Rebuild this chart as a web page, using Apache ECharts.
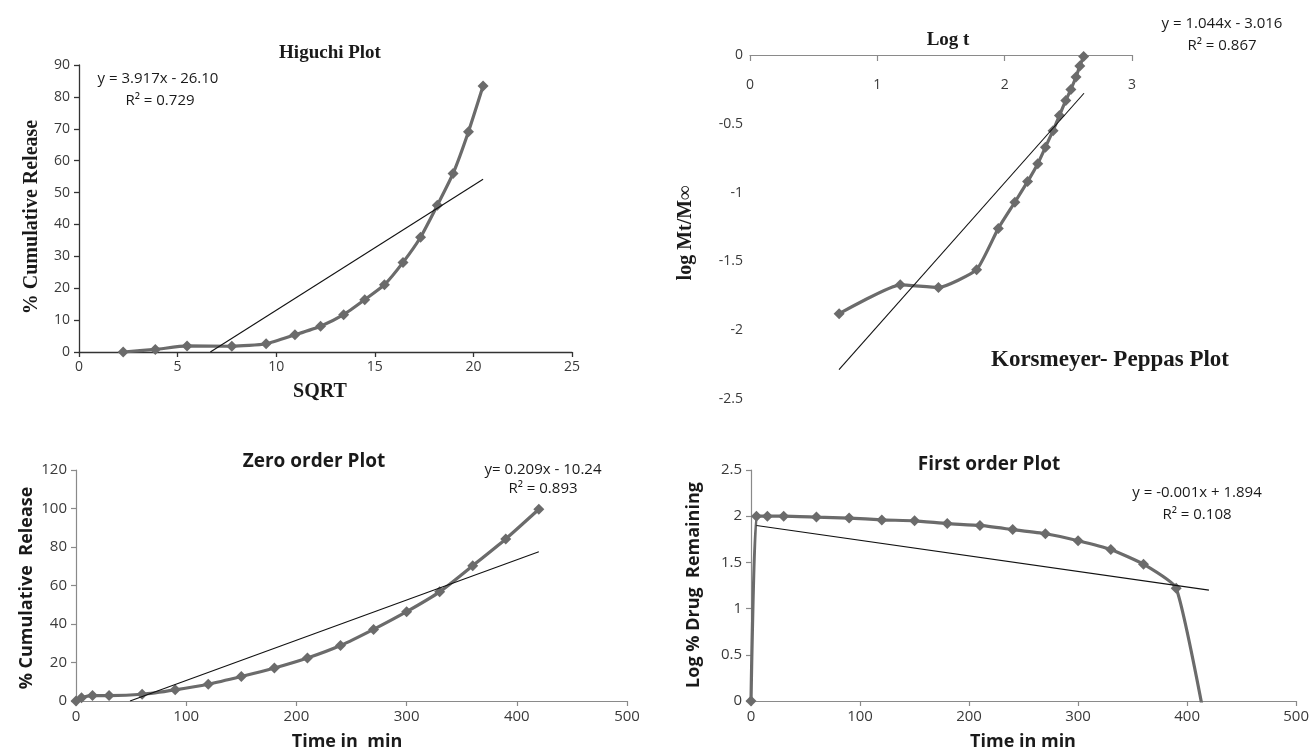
<!DOCTYPE html>
<html>
<head>
<meta charset="utf-8">
<script src="https://cdn.jsdelivr.net/npm/echarts@6/dist/echarts.min.js"></script>
<style>
html,body{margin:0;padding:0;background:#fff;}
#chart{width:1312px;height:752px;}
</style>
</head>
<body>
<div id="chart"></div>
<script>
// ---- Higuchi plot data (SQRT of time vs % cumulative release)
const higuchiX = [2.24, 3.87, 5.48, 7.75, 9.49, 10.95, 12.25, 13.42, 14.49, 15.49, 16.43, 17.32, 18.17, 18.97, 19.75, 20.49];
const higuchiY = [0, 0.8, 1.9, 1.8, 2.6, 5.4, 8.1, 11.7, 16.4, 21.1, 28.1, 36.0, 46.0, 56.0, 69.1, 83.4];
const higuchiTrendX = [6.66, 20.49];
const higuchiTrendY = [0, 54.2];

// ---- Korsmeyer-Peppas plot data (log t vs log Mt/Minf)
const kpX = [0.70, 1.18, 1.48, 1.78, 1.95, 2.08, 2.18, 2.26, 2.32, 2.38, 2.43, 2.48, 2.52, 2.56, 2.59, 2.62];
const kpY = [-1.88, -1.67, -1.69, -1.56, -1.26, -1.07, -0.92, -0.79, -0.67, -0.55, -0.44, -0.33, -0.25, -0.16, -0.08, -0.01];
const kpTrendX = [0.699, 2.623];
const kpTrendY = [-2.286, -0.278];

// ---- Zero order plot data (time vs % cumulative release)
const zeroX = [0, 5, 15, 30, 60, 90, 120, 150, 180, 210, 240, 270, 300, 330, 360, 390, 420];
const zeroY = [0, 1.7, 2.8, 2.8, 3.5, 5.8, 8.7, 12.7, 17.1, 22.3, 28.8, 37.2, 46.4, 56.7, 70.3, 84.2, 99.6];
const zeroTrendX = [49, 420];
const zeroTrendY = [0, 77.5];

// ---- First order plot data (time vs log % drug remaining)
const firstX = [0, 5, 15, 30, 60, 90, 120, 150, 180, 210, 240, 270, 300, 330, 360, 390, 420];
const firstY = [0, 2.0, 2.0, 2.0, 1.99, 1.98, 1.96, 1.95, 1.92, 1.90, 1.855, 1.81, 1.735, 1.64, 1.48, 1.22, -0.44];
const firstTrendX = [5, 420];
const firstTrendY = [1.9, 1.2];

// ---- texts
const texts = {
  higuchiTitle: 'Higuchi Plot', higuchiXName: 'SQRT', higuchiYName: '% Cumulative Release',
  higuchiEq: 'y = 3.917x - 26.10', higuchiR2: 'R\u00B2 = 0.729',
  kpTitle: 'Korsmeyer- Peppas Plot', kpXName: 'Log t', kpYName: 'log Mt/M\u221E',
  kpEq: 'y = 1.044x - 3.016', kpR2: 'R\u00B2 = 0.867',
  zeroTitle: 'Zero order Plot', zeroXName: 'Time in  min', zeroYName: '% Cumulative  Release',
  zeroEq: 'y= 0.209x - 10.24', zeroR2: 'R\u00B2 = 0.893',
  firstTitle: 'First order Plot', firstXName: 'Time in min', firstYName: 'Log % Drug  Remaining',
  firstEq: 'y = -0.001x + 1.894', firstR2: 'R\u00B2 = 0.108'
};

const zip = (a, b) => a.map((v, i) => [v, b[i]]);

const SANS = '"Open Sans", "Liberation Sans", sans-serif';
const SERIF = '"Liberation Serif", "DejaVu Serif", serif';
const LBL = '#3a3a3a';
const DATA = '#6b6b6b';
const TOPFS = 14;
const BOTFS = 15;

function valAxis(idx, min, max, interval, fs, opts) {
  return Object.assign({
    type: 'value', gridIndex: idx, min: min, max: max, interval: interval,
    splitLine: { show: false },
    axisLine: { show: true, onZero: false, lineStyle: { color: '#8a8a8a', width: 1.2 } },
    axisTick: { show: true, length: 5, lineStyle: { color: '#8a8a8a', width: 1.2 } },
    axisLabel: { color: LBL, fontFamily: SANS, fontSize: fs, margin: 8 }
  }, opts || {});
}

function dataSeries(x, y, xi, yi, smooth) {
  return {
    type: 'line', xAxisIndex: xi, yAxisIndex: yi, data: zip(x, y),
    symbol: 'diamond', symbolSize: 11, smooth: smooth, clip: true,
    lineStyle: { color: DATA, width: 3.2 },
    itemStyle: { color: DATA },
    z: 3, animation: false
  };
}
function trendSeries(x, y, xi, yi) {
  return {
    type: 'line', xAxisIndex: xi, yAxisIndex: yi, data: zip(x, y),
    symbol: 'none', lineStyle: { color: '#111', width: 1.1 }, z: 4, animation: false
  };
}
function txt(x, y, text, family, size, weight, rot) {
  return {
    type: 'text', x: x, y: y, rotation: rot || 0,
    style: {
      text: text, fill: '#1a1a1a', fontFamily: family, fontSize: size,
      fontWeight: weight || 'normal', align: 'center', verticalAlign: 'middle'
    }
  };
}

const chart = echarts.init(document.getElementById('chart'), null, { renderer: 'canvas' });
const option = {
  backgroundColor: '#ffffff',
  animation: false,
  grid: [
    { left: 79, top: 65, width: 493, height: 287, containLabel: false },
    { left: 750, top: 55, width: 382, height: 344, containLabel: false },
    { left: 76, top: 470, width: 551, height: 231, containLabel: false },
    { left: 751, top: 470, width: 546, height: 231, containLabel: false }
  ],
  xAxis: [
    valAxis(0, 0, 25, 5, TOPFS, {
      axisLine: { show: true, onZero: false, lineStyle: { color: '#333', width: 1.3 } },
      axisTick: { show: true, length: 5, lineStyle: { color: '#333', width: 1.3 } }
    }),
    valAxis(1, 0, 3, 1, TOPFS, {
      position: 'top',
      axisTick: { show: true, inside: true, length: 6, lineStyle: { color: '#8a8a8a', width: 1.2 } },
      axisLabel: { inside: true, color: LBL, fontFamily: SANS, fontSize: TOPFS, margin: 23 }
    }),
    valAxis(2, 0, 500, 100, BOTFS),
    valAxis(3, 0, 500, 100, BOTFS)
  ],
  yAxis: [
    valAxis(0, 0, 90, 10, TOPFS, {
      axisLine: { show: true, onZero: false, lineStyle: { color: '#333', width: 1.3 } },
      axisTick: { show: true, length: 5, lineStyle: { color: '#333', width: 1.3 } },
      axisLabel: { color: LBL, fontFamily: SANS, fontSize: TOPFS, margin: 9 }
    }),
    valAxis(1, -2.5, 0, 0.5, TOPFS, {
      axisLine: { show: false },
      axisTick: { show: false },
      axisLabel: { color: LBL, fontFamily: SANS, fontSize: TOPFS, margin: 7 }
    }),
    valAxis(2, 0, 120, 20, BOTFS, { axisLabel: { color: LBL, fontFamily: SANS, fontSize: BOTFS, margin: 9 } }),
    valAxis(3, 0, 2.5, 0.5, BOTFS, { axisLabel: { color: LBL, fontFamily: SANS, fontSize: BOTFS, margin: 9 } })
  ],
  series: [
    dataSeries(higuchiX, higuchiY, 0, 0, 0.2),
    trendSeries(higuchiTrendX, higuchiTrendY, 0, 0),
    dataSeries(kpX, kpY, 1, 1, 0.15),
    trendSeries(kpTrendX, kpTrendY, 1, 1),
    dataSeries(zeroX, zeroY, 2, 2, 0.2),
    trendSeries(zeroTrendX, zeroTrendY, 2, 2),
    dataSeries(firstX, firstY, 3, 3, 0.15),
    trendSeries(firstTrendX, firstTrendY, 3, 3)
  ],
  graphic: [
    txt(330, 53, texts.higuchiTitle, SERIF, 19, 'bold'),
    txt(320, 392, texts.higuchiXName, SERIF, 20, 'bold'),
    txt(32, 217, texts.higuchiYName, SERIF, 20, 'bold', Math.PI / 2),
    txt(158, 79, texts.higuchiEq, SANS, 15),
    txt(160, 101, texts.higuchiR2, SANS, 15),

    txt(948, 40, texts.kpXName, SERIF, 19, 'bold'),
    txt(1110, 360, texts.kpTitle, SERIF, 23, 'bold'),
    txt(686, 233, texts.kpYName, SERIF, 20, 'bold', Math.PI / 2),
    txt(1222, 24, texts.kpEq, SANS, 15),
    txt(1222, 46, texts.kpR2, SANS, 15),

    txt(314, 462, texts.zeroTitle, SANS, 19, 'bold'),
    txt(543, 470, texts.zeroEq, SANS, 15),
    txt(543, 489, texts.zeroR2, SANS, 15),
    txt(347, 742, texts.zeroXName, SANS, 18, 'bold'),
    txt(27, 588, texts.zeroYName, SANS, 18, 'bold', Math.PI / 2),

    txt(989, 465, texts.firstTitle, SANS, 19, 'bold'),
    txt(1197, 493, texts.firstEq, SANS, 15),
    txt(1197, 515, texts.firstR2, SANS, 15),
    txt(1023, 742, texts.firstXName, SANS, 18, 'bold'),
    txt(694, 585, texts.firstYName, SANS, 18, 'bold', Math.PI / 2)
  ]
};
chart.setOption(option);
</script>
</body>
</html>
